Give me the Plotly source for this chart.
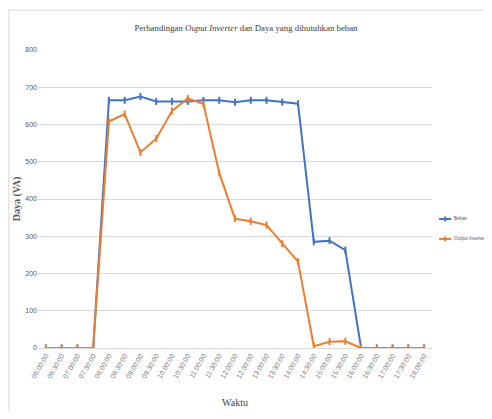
import plotly.graph_objects as go

waktu = ["06:00:00", "06:30:00", "07:00:00", "07:30:00", "08:00:00", "08:30:00", "09:00:00",
         "09:30:00", "10:00:00", "10:30:00", "11:00:00", "11:30:00", "12:00:00", "12:30:00",
         "13:00:00", "13:30:00", "14:00:00", "14:30:00", "15:00:00", "15:30:00", "16:00:00",
         "16:30:00", "17:00:00", "17:30:00", "18:00:00"]
beban = [0, 0, 0, 0, 665, 665, 675, 662, 662, 662, 665, 665, 660, 665, 665, 660, 656,
         285, 288, 263, 0, 0, 0, 0, 0]
output_inverter = [0, 0, 0, 0, 608, 628, 525, 562, 636, 670, 655, 470, 347, 340, 330, 280, 232,
                   5, 17, 18, 0, 0, 0, 0, 0]
y_ticks = [0, 100, 200, 300, 400, 500, 600, 700, 800]
series = [("Beban", beban, "#4472C4"), ("Output Inverter", output_inverter, "#ED7D31")]

fig = go.Figure()
for name, vals, col in series:
    fig.add_trace(go.Scatter(x=waktu, y=vals, name=name, mode="lines+markers",
                             line=dict(color=col, width=2),
                             marker=dict(symbol="line-ns", size=5, line=dict(color=col, width=2))))

fig.update_layout(
    width=476, height=403,
    margin=dict(l=30, r=52, t=42, b=63, autoexpand=False),
    paper_bgcolor="white", plot_bgcolor="white",
    title=dict(text="Perbandingan <i>Ouput Inverter</i> dan Daya yang dibutuhkan beban",
               x=0.5, xanchor="center", y=0.950, yanchor="middle",
               font=dict(family="Liberation Serif", size=8.8, color="#404040")),
    showlegend=False,
    font=dict(family="Liberation Sans", size=7, color="#595959"),
)

# manual legend (plotly's legend is too wide for the narrow right margin)
leg_y = [0.433, 0.366]
for (name, vals, col), ly in zip(series, leg_y):
    fig.add_shape(type="line", xref="paper", yref="paper", x0=1.018, x1=1.049, y0=ly, y1=ly,
                  line=dict(color=col, width=2))
    fig.add_shape(type="line", xref="paper", yref="paper", x0=1.0335, x1=1.0335,
                  y0=ly - 0.008, y1=ly + 0.008, line=dict(color=col, width=2))
    fig.add_annotation(text=name, xref="paper", yref="paper", x=1.051, y=ly, xanchor="left",
                       yanchor="middle", showarrow=False,
                       font=dict(family="Liberation Sans", size=4.6, color="#595959"))

fig.update_xaxes(type="category", range=[-0.5, 24.5], tickangle=-60, automargin=False,
                 showgrid=False, showline=True, linecolor="#d9d9d9", linewidth=1,
                 ticks="", tickfont=dict(size=7, color="#7f7f7f"),
                 title=dict(text="Waktu", font=dict(family="Liberation Serif", size=10, color="#404040"),
                            standoff=20))
fig.update_yaxes(range=[0, 800], tickvals=y_ticks, showgrid=True, gridcolor="#d9d9d9", automargin=False,
                 zeroline=False, showline=False, ticks="", tickfont=dict(size=7, color="#595959"),
                 title=dict(text="<b>Daya (VA)</b>",
                            font=dict(family="Liberation Serif", size=10, color="#595959"),
                            standoff=2))
fig.add_shape(type="rect", xref="paper", yref="paper", x0=-0.074, x1=1.3, y0=-0.4, y1=1.134,
              line=dict(color="#d9d9d9", width=1), layer="below")

fig.write_html("out.html")
